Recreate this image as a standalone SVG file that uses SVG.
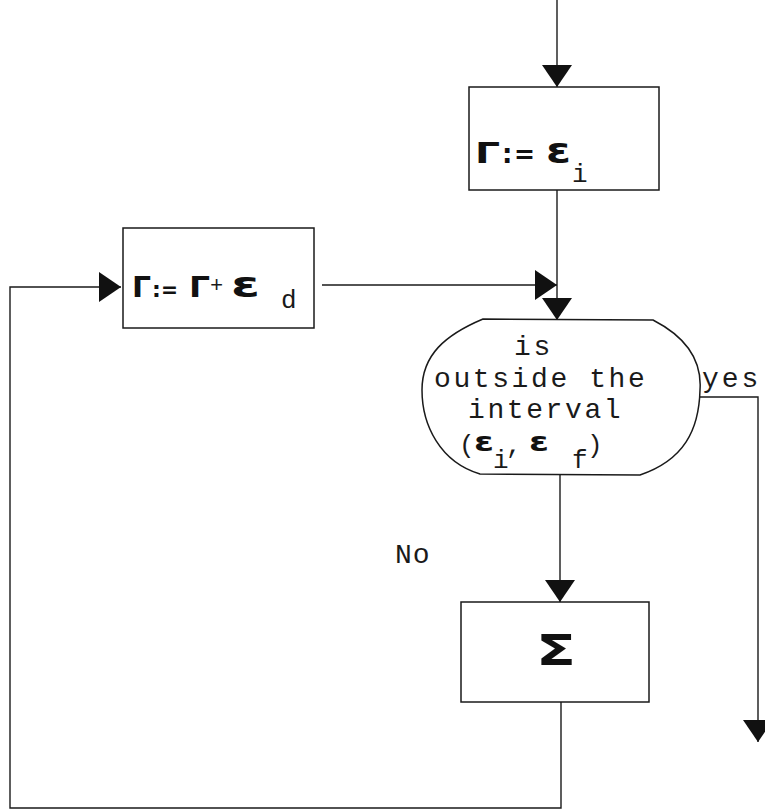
<svg xmlns="http://www.w3.org/2000/svg" width="765" height="812" viewBox="0 0 765 812">
<defs>
<style>
.box{fill:none;stroke:#1a1a1a;stroke-width:1.5}
.con{fill:none;stroke:#1a1a1a;stroke-width:1.4}
.mono{font-family:"Liberation Mono","DejaVu Sans Mono",monospace;fill:#1a1a1a}
.lbl{font-size:28px;letter-spacing:2.6px}
.sub{font-size:26px}
.sym{font-family:"DejaVu Sans","Liberation Sans",sans-serif;font-weight:bold;fill:#111}
</style>
<marker id="arr" viewBox="0 0 22 30" refX="22" refY="15" markerWidth="22" markerHeight="30" markerUnits="userSpaceOnUse" orient="auto">
<path d="M0,0 L22,15 L0,30 Z" fill="#111"/>
</marker>
</defs>
<rect width="765" height="812" fill="#ffffff"/>

<g id="connectors">
<path class="con" d="M557,0 L557,87" marker-end="url(#arr)"/>
<path class="con" d="M557,190 L557,320" marker-end="url(#arr)"/>
<path class="con" d="M322,285 L557,285" marker-end="url(#arr)"/>
<path class="con" d="M560,475 L560,602" marker-end="url(#arr)"/>
<path class="con" d="M700,397 L758,397 L758,742" marker-end="url(#arr)"/>
<path class="con" d="M561,702 L561,808 L10,808 L10,287 L121,287" marker-end="url(#arr)"/>
</g>

<g id="init">
<rect class="box" x="469" y="87" width="190" height="103"/>
<text class="sym" x="475" y="163" font-size="28" textLength="25" lengthAdjust="spacingAndGlyphs">Γ</text>
<text class="sym" x="502" y="163" font-size="26">:</text>
<text class="sym" x="514" y="163" font-size="26" textLength="21" lengthAdjust="spacingAndGlyphs">=</text>
<text class="sym" x="546" y="163" font-size="36" textLength="25" lengthAdjust="spacingAndGlyphs">ε</text>
<text class="mono sub" x="572" y="182">i</text>
</g>

<g id="increment">
<rect class="box" x="123" y="228" width="191" height="100"/>
<text class="sym" x="132" y="297" font-size="28" textLength="19" lengthAdjust="spacingAndGlyphs">Γ</text>
<text class="sym" x="152" y="297" font-size="22">:</text>
<text class="sym" x="161" y="297" font-size="22" textLength="17" lengthAdjust="spacingAndGlyphs">=</text>
<text class="sym" x="189" y="297" font-size="28" textLength="21" lengthAdjust="spacingAndGlyphs">Γ</text>
<text class="mono" x="210" y="292" font-size="22">+</text>
<text class="sym" x="231" y="297" font-size="36" textLength="29" lengthAdjust="spacingAndGlyphs">ε</text>
<text class="mono sub" x="281" y="308">d</text>
</g>

<g id="decision">
<path class="box" d="M483,319 L653,320 C688,338 702,362 700,390 C699,430 684,460 640,475 L480,474 C440,462 422,425 422,390 C422,355 445,335 483,319 Z"/>
<text class="mono lbl" x="514" y="355">is</text>
<text class="mono lbl" x="434" y="387">outside the</text>
<text class="mono lbl" x="468" y="418">interval</text>
<text class="mono sub" x="459" y="453">(</text>
<text class="sym" x="474" y="451" font-size="26" textLength="20" lengthAdjust="spacingAndGlyphs">ε</text>
<text class="mono sub" x="493" y="468">i</text>
<text class="mono sub" x="506" y="453">,</text>
<text class="sym" x="529" y="451" font-size="26" textLength="20" lengthAdjust="spacingAndGlyphs">ε</text>
<text class="mono sub" x="572" y="468">f</text>
<text class="mono sub" x="587" y="453">)</text>
</g>

<g id="sum">
<rect class="box" x="461" y="602" width="188" height="100"/>
<text class="sym" x="536" y="665" font-size="42" textLength="40" lengthAdjust="spacingAndGlyphs">Σ</text>
</g>

<g id="labels">
<text class="mono" x="702" y="387" font-size="28" letter-spacing="3">yes</text>
<text class="mono" x="395" y="563" font-size="28" letter-spacing="1">No</text>
</g>
</svg>
